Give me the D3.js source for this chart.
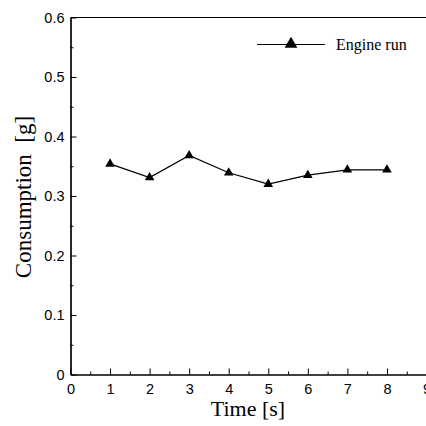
<!DOCTYPE html>
<html><head><meta charset="utf-8">
<script src="https://cdn.jsdelivr.net/npm/d3@7"></script>
<style>body{margin:0;background:#fff}</style>
</head><body>
<svg id="c" width="426" height="426"></svg>
<script>
const times = [1, 2, 3, 4, 5, 6, 7, 8];
const consumption = [0.354, 0.331, 0.368, 0.339, 0.320, 0.335, 0.344, 0.344];
const xTicks = [0, 1, 2, 3, 4, 5, 6, 7, 8, 9];
const yTicks = [0, 0.1, 0.2, 0.3, 0.4, 0.5, 0.6];
const seriesName = "Engine run";

const svg = d3.select("#c");
const x = d3.scaleLinear().domain([0, 9]).range([70.5, 426.5]);
const y = d3.scaleLinear().domain([0, 0.6]).range([374.5, 17.5]);

const g = svg.append("g");
// x axis
const xa = g.append("g").attr("transform", `translate(0,${y(0)})`)
  .call(d3.axisBottom(x).tickValues(xTicks).tickFormat(d3.format("d")).tickSizeInner(-6).tickSizeOuter(0).tickPadding(9));
xa.append("g").call(d3.axisBottom(x).tickValues(d3.range(0.5, 9, 1)).tickFormat("").tickSizeInner(-3).tickSizeOuter(0));
// top line
g.append("line").attr("x1", x(0)).attr("x2", 426).attr("y1", y(0.6)).attr("y2", y(0.6)).attr("stroke", "#000");
// y axis
const ya = g.append("g").attr("transform", `translate(${x(0)},0)`)
  .call(d3.axisLeft(y).tickValues(yTicks).tickFormat(d => d === 0 ? "0" : d3.format(".1f")(d)).tickSizeInner(-6).tickSizeOuter(0).tickPadding(6));
ya.append("g").call(d3.axisLeft(y).tickValues(d3.range(0.05, 0.6, 0.1)).tickFormat("").tickSizeInner(-3).tickSizeOuter(0));

svg.selectAll(".domain").attr("stroke", "#000").attr("stroke-width", 1.2);
svg.selectAll(".tick line").attr("stroke", "#000");
svg.selectAll(".tick text").attr("font-family", "Liberation Sans, Arial, sans-serif").attr("font-size", 14.5).attr("fill", "#000");

// line
const line = d3.line().x((d, i) => x(times[i])).y(d => y(d));
g.append("path").datum(consumption).attr("d", line).attr("fill", "none").attr("stroke", "#000").attr("stroke-width", 1.2);
const tri = d3.symbol().type(d3.symbolTriangle).size(40);
g.selectAll(".m").data(consumption).join("path").attr("class", "m")
  .attr("transform", (d, i) => `translate(${x(times[i])},${y(d)})`).attr("d", tri).attr("fill", "#000");

// legend
g.append("line").attr("x1", 257).attr("x2", 325).attr("y1", 44.5).attr("y2", 44.5).attr("stroke", "#000").attr("stroke-width", 1.2);
g.append("path").attr("transform", "translate(291,44)").attr("d", d3.symbol().type(d3.symbolTriangle).size(70)).attr("fill", "#000");
g.append("text").attr("x", 336).attr("y", 50).text(seriesName)
  .attr("font-family", "Liberation Serif, Times New Roman, serif").attr("font-size", 16).attr("fill", "#000");

// titles
svg.append("text").attr("x", 248).attr("y", 416).attr("text-anchor", "middle").text("Time [s]")
  .attr("font-family", "Liberation Serif, Times New Roman, serif").attr("font-size", 22).attr("fill", "#000");
svg.append("text").attr("transform", "translate(31,197) rotate(-90)").attr("text-anchor", "middle").text("Consumption\u00a0\u00a0[g]")
  .attr("font-family", "Liberation Serif, Times New Roman, serif").attr("font-size", 23).attr("fill", "#000");
</script>
</body></html>
